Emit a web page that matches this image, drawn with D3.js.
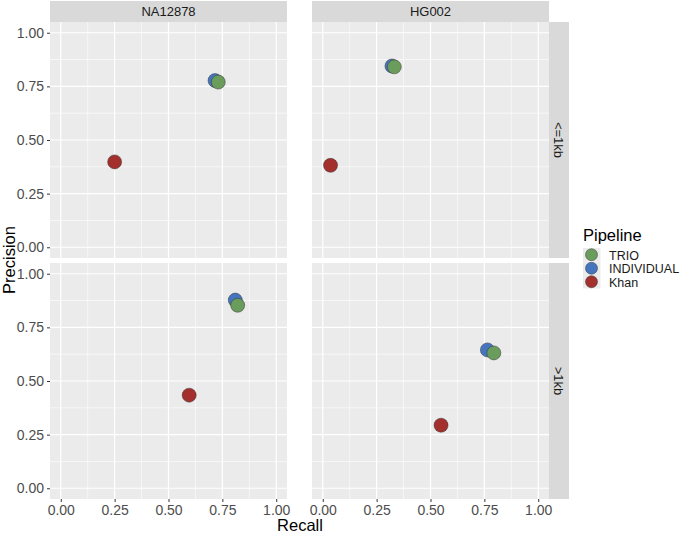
<!DOCTYPE html>
<html lang="en">
<head>
    <meta charset="UTF-8">
    <title>Precision vs Recall</title>
    <script src="https://cdn.jsdelivr.net/npm/d3@7"></script>
    <style>
        body{ margin:0; background:#fff; }
        text{ font-family: "Liberation Sans", Arial, sans-serif; }
    </style>
</head>
<body>
<script type="text/javascript">

    // data
    var samples = ["NA12878", "HG002"];
    var sizes = ["<=1kb", ">1kb"];
    var pipelines = ["Khan", "INDIVIDUAL", "TRIO"];          // draw order
    var legendOrder = ["TRIO", "INDIVIDUAL", "Khan"];
    var colours = {TRIO: "#6a9c5c", INDIVIDUAL: "#4675c0", Khan: "#a3302c"};

    // recall / precision per panel, in pipeline order (Khan, INDIVIDUAL, TRIO)
    var recallNA_small = [0.25, 0.716, 0.731];
    var precisionNA_small = [0.398, 0.777, 0.770];
    var recallHG_small = [0.036, 0.321, 0.332];
    var precisionHG_small = [0.382, 0.845, 0.841];
    var recallNA_large = [0.596, 0.810, 0.821];
    var precisionNA_large = [0.434, 0.877, 0.853];
    var recallHG_large = [0.549, 0.764, 0.794];
    var precisionHG_large = [0.294, 0.645, 0.631];

    var ticks = [0, 0.25, 0.5, 0.75, 1];
    var minorTicks = [0.125, 0.375, 0.625, 0.875];

    var panelData = [
        {sample: "NA12878", size: "<=1kb", recall: recallNA_small, precision: precisionNA_small},
        {sample: "HG002", size: "<=1kb", recall: recallHG_small, precision: precisionHG_small},
        {sample: "NA12878", size: ">1kb", recall: recallNA_large, precision: precisionNA_large},
        {sample: "HG002", size: ">1kb", recall: recallHG_large, precision: precisionHG_large}
    ];

    var w = 685, h = 534;
    var colX = {"NA12878": 50, "HG002": 312};
    var rowY = {"<=1kb": 22, ">1kb": 263};
    var pw = 237, ph = 236;

    var svg = d3.select("body").append("svg")
        .attr("width", w).attr("height", h);

    var fmt = d3.format(".2f");

    panelData.forEach(function(p) {
        var x0 = colX[p.sample], y0 = rowY[p.size];
        var x = d3.scaleLinear().domain([-0.05, 1.05]).range([x0, x0 + pw]);
        var y = d3.scaleLinear().domain([-0.05, 1.05]).range([y0 + ph, y0]);

        var g = svg.append("g");
        g.append("rect").attr("x", x0).attr("y", y0).attr("width", pw).attr("height", ph)
            .attr("fill", "#ebebeb");

        // minor grid
        minorTicks.forEach(function(t) {
            g.append("line").attr("x1", x(t)).attr("x2", x(t)).attr("y1", y0).attr("y2", y0 + ph)
                .attr("stroke", "#fff").attr("stroke-width", 0.6);
            g.append("line").attr("x1", x0).attr("x2", x0 + pw).attr("y1", y(t)).attr("y2", y(t))
                .attr("stroke", "#fff").attr("stroke-width", 0.6);
        });
        // major grid
        ticks.forEach(function(t) {
            g.append("line").attr("x1", x(t)).attr("x2", x(t)).attr("y1", y0).attr("y2", y0 + ph)
                .attr("stroke", "#fff").attr("stroke-width", 1.2);
            g.append("line").attr("x1", x0).attr("x2", x0 + pw).attr("y1", y(t)).attr("y2", y(t))
                .attr("stroke", "#fff").attr("stroke-width", 1.2);
        });

        // points
        pipelines.forEach(function(name, i) {
            g.append("circle")
                .attr("cx", x(p.recall[i]))
                .attr("cy", y(p.precision[i]))
                .attr("r", 7)
                .attr("fill", colours[name])
                .attr("stroke", "#333")
                .attr("stroke-opacity", 0.7)
                .attr("stroke-width", 0.7);
        });

        // y axis on left column
        if (p.sample === "NA12878") {
            var ya = svg.append("g").attr("transform", "translate(" + x0 + ",0)")
                .call(d3.axisLeft(y).tickValues(ticks).tickFormat(fmt).tickSize(3).tickPadding(3));
            ya.select(".domain").remove();
            ya.selectAll("line").attr("stroke", "#333");
            ya.selectAll("text").attr("fill", "#4d4d4d").style("font-size", "14px");
        }
        // x axis on bottom row
        if (p.size === ">1kb") {
            var xa = svg.append("g").attr("transform", "translate(0," + (y0 + ph) + ")")
                .call(d3.axisBottom(x).tickValues(ticks).tickFormat(fmt).tickSize(3).tickPadding(3));
            xa.select(".domain").remove();
            xa.selectAll("line").attr("stroke", "#333");
            xa.selectAll("text").attr("fill", "#4d4d4d").style("font-size", "14px");
        }
    });

    // top strips
    samples.forEach(function(s) {
        svg.append("rect").attr("x", colX[s]).attr("y", 1).attr("width", pw).attr("height", 21)
            .attr("fill", "#d9d9d9");
        svg.append("text").attr("x", colX[s] + pw / 2).attr("y", 16)
            .attr("text-anchor", "middle").attr("fill", "#1a1a1a").style("font-size", "13px")
            .text(s);
    });
    // right strips
    sizes.forEach(function(s) {
        var sx = colX["HG002"] + pw;
        svg.append("rect").attr("x", sx).attr("y", rowY[s]).attr("width", 20).attr("height", ph)
            .attr("fill", "#d9d9d9");
        svg.append("text")
            .attr("transform", "translate(" + (sx + 5) + "," + (rowY[s] + ph / 2) + ") rotate(90)")
            .attr("text-anchor", "middle").attr("fill", "#1a1a1a").style("font-size", "13px")
            .text(s);
    });

    // axis titles
    svg.append("text").attr("x", 300).attr("y", 531).attr("text-anchor", "middle")
        .attr("fill", "#000").style("font-size", "16.5px").text("Recall");
    svg.append("text").attr("transform", "translate(15,260) rotate(-90)")
        .attr("text-anchor", "middle").attr("fill", "#000").style("font-size", "16.5px").text("Precision");

    // legend
    var lg = svg.append("g").attr("transform", "translate(583,0)");
    lg.append("text").attr("x", 0).attr("y", 241).attr("fill", "#000").style("font-size", "16.5px")
        .text("Pipeline");
    legendOrder.forEach(function(name, i) {
        var ky = 248 + i * 13.5;
        lg.append("rect").attr("x", 0).attr("y", ky).attr("width", 17.5).attr("height", 13.5)
            .attr("fill", "#ebebeb");
        lg.append("circle").attr("cx", 8.5).attr("cy", ky + 6.75).attr("r", 6)
            .attr("fill", colours[name]).attr("stroke", "#333").attr("stroke-opacity", 0.7)
            .attr("stroke-width", 0.7);
        lg.append("text").attr("x", 26).attr("y", ky + 11.5).attr("fill", "#1a1a1a")
            .style("font-size", "12.5px").text(name);
    });

</script>
</body>
</html>
